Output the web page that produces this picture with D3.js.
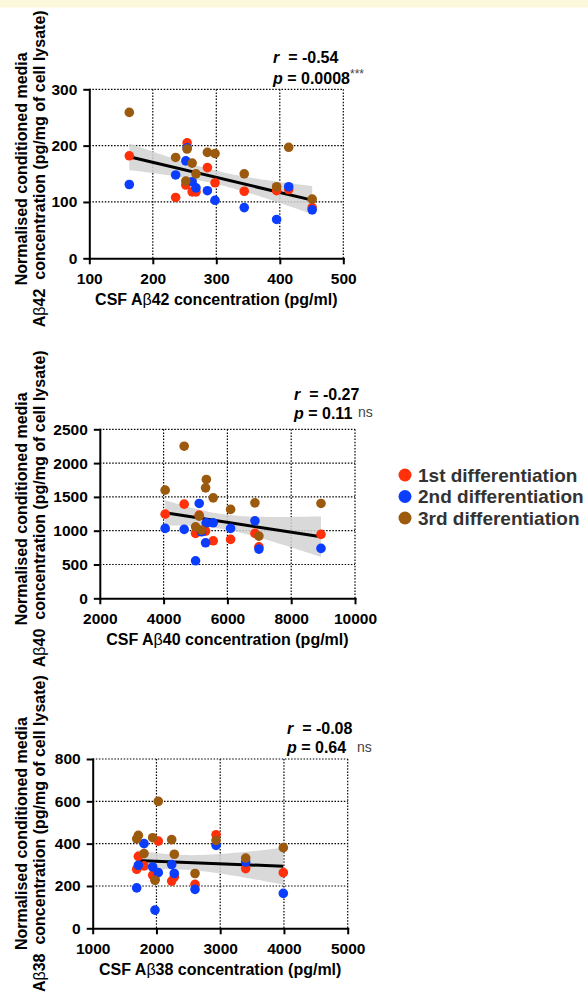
<!DOCTYPE html>
<html>
<head>
<meta charset="utf-8">
<script src="https://cdn.jsdelivr.net/npm/d3@7"></script>
<style>
  body { margin: 0; background: #fff; }
  svg { display: block; font-family: "Liberation Sans", Arial, Helvetica, sans-serif; }
</style>
</head>
<body>
<div id="chart"></div>
<script>
// series (differentiation batches)
const seriesNames = ["1st differentiation", "2nd differentiation", "3rd differentiation"];
const seriesColors = ["#ff300a", "#0b3dff", "#9b5a0e"];

// Abeta42 panel
const csfA42 = [163, 236, 252, 254, 262, 268, 286, 298, 344, 395, 414, 451];
const a42First = [182, 108, 130, 205, 118, 118, 161, 134, 119, 120, 122, 90];
const a42Second = [131, 148, 173, 196, 136, 125, 120, 103, 90, 69, 127, 86];
const a42Third = [259, 179, 137, 194, 169, 150, 188, 186, 150, 127, 197, 105];
const a42XTicks = [100, 200, 300, 400, 500];
const a42YTicks = [0, 100, 200, 300];
const a42Stats = ["-0.54", "0.0008", "***"];

// Abeta40 panel
const csfA40 = [4049, 4645, 5002, 5116, 5190, 5316, 5340, 5555, 6100, 6863, 6988, 8934];
const a40First = [1245, 1393, 960, 1230, 1000, 994, 1110, 851, 871, 960, 762, 945];
const a40Second = [1034, 1019, 555, 1403, 984, 821, 1117, 1117, 1034, 1146, 728, 738];
const a40Third = [1600, 2250, 1058, 1216, 1009, 1634, 1758, 1486, 1315, 1412, 920, 1403];
const a40XTicks = [2000, 4000, 6000, 8000, 10000];
const a40YTicks = [0, 500, 1000, 1500, 2000, 2500];
const a40Stats = ["-0.27", "0.11", "ns"];

// Abeta38 panel
const csfA38 = [1690, 1716, 1805, 1941, 1977, 2029, 2239, 2280, 2605, 2935, 3400, 3990];
const a38First = [279, 340, 295, 251, 232, 412, 223, 243, 208, 442, 282, 263];
const a38Second = [191, 298, 400, 290, 86, 263, 301, 259, 184, 392, 313, 165];
const a38Third = [423, 439, 353, 428, 227, 600, 419, 350, 259, 415, 332, 381];
const a38XTicks = [1000, 2000, 3000, 4000, 5000];
const a38YTicks = [0, 200, 400, 600, 800];
const a38Stats = ["-0.08", "0.64", "ns"];

const width = 588, height = 995;

// layout per panel
const panels = [
  { pep: "42", xs: csfA42, ys: [a42First, a42Second, a42Third], xTicks: a42XTicks, yTicks: a42YTicks, stats: a42Stats,
    box: { left: 89.3, right: 343.3, top: 89.3, bottom: 258.3 }, titleShift: -5,
    st: { x: 273, r: 62.7, p: 84.3, sx: 350, sy: 78, sig: 12 } },
  { pep: "40", xs: csfA40, ys: [a40First, a40Second, a40Third], xTicks: a40XTicks, yTicks: a40YTicks, stats: a40Stats,
    box: { left: 99.8, right: 355, top: 429.3, bottom: 598.3 }, titleShift: -5,
    st: { x: 294, r: 400, p: 419, sx: 358, sy: 417, sig: 14 } },
  { pep: "38", xs: csfA38, ys: [a38First, a38Second, a38Third], xTicks: a38XTicks, yTicks: a38YTicks, stats: a38Stats,
    box: { left: 92.7, right: 347.7, top: 759, bottom: 928.3 }, titleShift: -10,
    st: { x: 287, r: 734, p: 753.3, sx: 357, sy: 752, sig: 14 } }
];

const svg = d3.select("#chart").append("svg")
  .attr("width", width)
  .attr("height", height)
  .attr("viewBox", [0, 0, width, height]);

// pale banner on top
svg.append("rect").attr("x", 0).attr("y", 0).attr("width", width).attr("height", 7.5).attr("fill", "#fdf7dc");

// simple linear fit + 95% CI of the mean
function fit(xs, ys) {
  const n = xs.length, mx = d3.mean(xs), my = d3.mean(ys);
  let sxx = 0, sxy = 0;
  xs.forEach((x, i) => { sxx += (x - mx) ** 2; sxy += (x - mx) * (ys[i] - my); });
  const b = sxy / sxx, a = my - b * mx;
  const s = Math.sqrt(d3.sum(xs, (x, i) => (ys[i] - a - b * x) ** 2) / (n - 2));
  const t = 2.032; // t(0.975, 34)
  return {
    y: x => a + b * x,
    ci: x => t * s * Math.sqrt(1 / n + (x - mx) ** 2 / sxx)
  };
}

function drawPanel(p) {
  const g = svg.append("g");
  const x = d3.scaleLinear().domain(d3.extent(p.xTicks)).range([p.box.left, p.box.right]);
  const y = d3.scaleLinear().domain(d3.extent(p.yTicks)).range([p.box.bottom, p.box.top]);

  // dotted grid
  g.append("g").selectAll("line").data(p.yTicks.slice(1)).join("line")
    .attr("x1", p.box.left).attr("x2", p.box.right)
    .attr("y1", d => y(d)).attr("y2", d => y(d))
    .attr("stroke", "#000").attr("stroke-width", 1.2).attr("stroke-dasharray", "1.5,1.6");
  g.append("g").selectAll("line").data(p.xTicks.slice(1)).join("line")
    .attr("y1", p.box.top).attr("y2", p.box.bottom)
    .attr("x1", d => x(d)).attr("x2", d => x(d))
    .attr("stroke", "#000").attr("stroke-width", 1.2).attr("stroke-dasharray", "1.5,1.6");

  // pooled regression with confidence band
  const allX = [], allY = [];
  p.ys.forEach(s => s.forEach((v, i) => { allX.push(p.xs[i]); allY.push(v); }));
  const f = fit(allX, allY);
  const [x0, x1] = d3.extent(allX);
  const grid = d3.range(0, 61).map(i => x0 + (x1 - x0) * i / 60);
  g.append("path")
    .datum(grid)
    .attr("fill", "#d2d2d2").attr("fill-opacity", 0.85)
    .attr("d", d3.area().x(d => x(d)).y0(d => y(f.y(d) - f.ci(d))).y1(d => y(f.y(d) + f.ci(d))));
  g.append("line")
    .attr("x1", x(x0)).attr("y1", y(f.y(x0)))
    .attr("x2", x(x1)).attr("y2", y(f.y(x1)))
    .attr("stroke", "#000").attr("stroke-width", 3);

  // points
  p.ys.forEach((s, k) => {
    g.append("g").attr("fill", seriesColors[k])
      .selectAll("circle").data(s).join("circle")
      .attr("cx", (d, i) => x(p.xs[i]))
      .attr("cy", d => y(d))
      .attr("r", 4.8);
  });

  // axes
  const xAxis = g.append("g")
    .attr("transform", `translate(0,${p.box.bottom})`)
    .call(d3.axisBottom(x).tickValues(p.xTicks).tickFormat(d3.format("d")).tickSize(6).tickPadding(8.5).tickSizeOuter(0));
  const yAxis = g.append("g")
    .attr("transform", `translate(${p.box.left},0)`)
    .call(d3.axisLeft(y).tickValues(p.yTicks).tickFormat(d3.format("d")).tickSize(6).tickPadding(6).tickSizeOuter(0));
  [xAxis, yAxis].forEach(a => {
    a.attr("font-size", 15.5).attr("font-family", null).attr("font-weight", "bold");
    a.select(".domain").attr("stroke", "#000").attr("stroke-width", 2).attr("stroke-linecap", "square");
    a.selectAll(".tick line").attr("stroke", "#000").attr("stroke-width", 2);
    a.selectAll(".tick text").attr("fill", "#000");
  });

  // x title
  const xt = g.append("text")
    .attr("x", (p.box.left + p.box.right) / 2)
    .attr("y", p.box.bottom + 47)
    .attr("text-anchor", "middle")
    .attr("font-size", 16).attr("font-weight", "bold").attr("fill", "#000");
  xt.append("tspan").text("CSF A");
  xt.append("tspan").attr("font-weight", "normal").text("β");
  xt.append("tspan").text(p.pep + " concentration (pg/ml)");

  // y title (two lines)
  const cy = (p.box.top + p.box.bottom) / 2 + p.titleShift;
  g.append("text")
    .attr("transform", `translate(27,${cy}) rotate(-90)`)
    .attr("text-anchor", "middle")
    .attr("font-size", 16).attr("font-weight", "bold").attr("fill", "#000")
    .text("Normalised conditioned media");
  const yt = g.append("text")
    .attr("transform", `translate(45,${cy}) rotate(-90)`)
    .attr("text-anchor", "middle")
    .style("white-space", "pre")
    .attr("font-size", 16).attr("font-weight", "bold").attr("fill", "#000");
  yt.append("tspan").text("A");
  yt.append("tspan").attr("font-weight", "normal").text("β");
  yt.append("tspan").text(p.pep + "  concentration (pg/mg of cell lysate)");

  // stats
  const r = g.append("text").attr("x", p.st.x).attr("y", p.st.r)
    .style("white-space", "pre")
    .attr("font-size", 16).attr("font-weight", "bold").attr("fill", "#000");
  r.append("tspan").attr("font-style", "italic").text("r");
  r.append("tspan").text("  = " + p.stats[0]);
  const pv = g.append("text").attr("x", p.st.x).attr("y", p.st.p)
    .style("white-space", "pre")
    .attr("font-size", 16).attr("font-weight", "bold").attr("fill", "#000");
  pv.append("tspan").attr("font-style", "italic").text("p");
  pv.append("tspan").text(" = " + p.stats[1]);
  g.append("text").attr("x", p.st.sx).attr("y", p.st.sy)
    .attr("font-size", p.st.sig).attr("fill", "#444")
    .text(p.stats[2]);
}

panels.forEach(drawPanel);

// legend
const legend = svg.append("g").attr("transform", "translate(405,475)");
const item = legend.selectAll("g").data(seriesNames).join("g")
  .attr("transform", (d, i) => `translate(0,${i * 21.5})`);
item.append("circle").attr("r", 6.5).attr("fill", (d, i) => seriesColors[i]);
item.append("text")
  .attr("x", 13).attr("y", 6.5)
  .attr("font-size", 19).attr("font-weight", "bold").attr("fill", "#333")
  .text(d => d);
</script>
</body>
</html>
